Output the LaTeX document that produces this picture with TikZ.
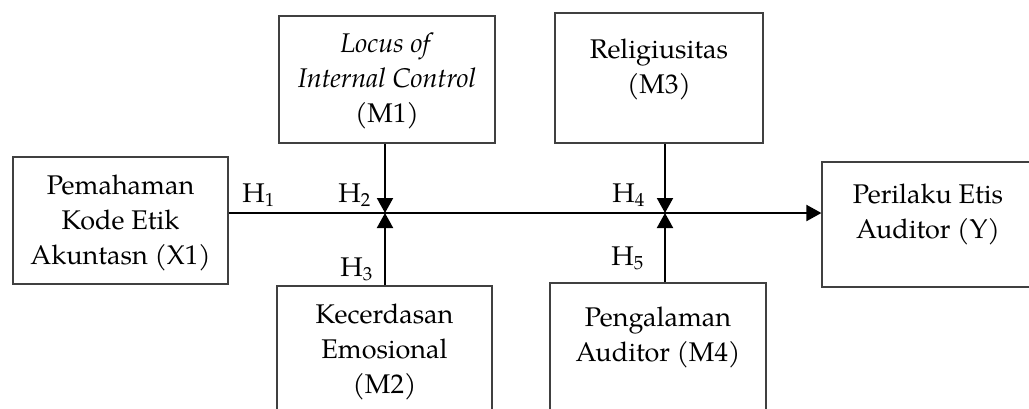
\documentclass[tikz,border=0pt]{standalone}
\usepackage{fontspec}
\setmainfont{TeX Gyre Pagella}
\usetikzlibrary{arrows.meta}
\begin{document}
\begin{tikzpicture}[x=0.5pt,y=-0.5pt,
  box/.style={draw=black!75, line width=0.6pt, rectangle, inner sep=0pt},
  txt/.style={align=center, inner sep=0pt, anchor=north, font=\fontsize{13.5}{17.5}\selectfont},
  hlab/.style={inner sep=0pt, anchor=base west, font=\fontsize{13.5}{17.5}\selectfont},
  conn/.style={line width=1pt, -{Triangle[width=8pt,length=7.5pt]}}]
\useasboundingbox (0,0) rectangle (1029,408);
\clip (0,0) rectangle (1029,408);
% boxes
\node[box, minimum width=108pt, minimum height=63.5pt] (m1) at (387,79.5) {};
\node[box, minimum width=107.5pt, minimum height=63.5pt] (x1) at (120.5,220.5) {};
\node[box, minimum width=104pt, minimum height=65pt] (m3) at (659,78) {};
\node[box, minimum width=106pt, minimum height=62.5pt] (y) at (928,224.5) {};
\node[box, minimum width=107.5pt, minimum height=67pt] (m2) at (384.5,353) {};
\node[box, minimum width=108pt, minimum height=68.5pt] (m4) at (658,351.5) {};
% texts
\node[txt] (m1t) at (387,32) {\textit{Locus of}\\\textit{Internal Control}\\(M1)};
\node[txt] (x1t) at (120.5,174) {Pemahaman\\Kode Etik\\Akuntasn (X1)};
\node[txt] (m3t) at (659,38) {Religiusitas\\(M3)};
\node[txt] (yt) at (928,183) {Perilaku Etis\\Auditor (Y)};
\node[txt] (m2t) at (384.5,303) {Kecerdasan\\Emosional\\(M2)};
\node[txt] (m4t) at (658,306) {Pengalaman\\Auditor (M4)};
% junctions
\coordinate (j1) at (385,213);
\coordinate (j2) at (665,213);
% connectors
\draw[conn] (x1.east |- j1) -- (y.west |- j1);
\draw[conn] (m1.south -| j1) -- (j1);
\draw[conn] (m2.north -| j1) -- (j1);
\draw[conn] (m3.south -| j2) -- (j2);
\draw[conn] (m4.north -| j2) -- (j2);
% hypothesis labels
\node[hlab] (h1) at (242,202) {H\textsubscript{1}};
\node[hlab] (h2) at (338,202) {H\textsubscript{2}};
\node[hlab] (h3) at (340,276) {H\textsubscript{3}};
\node[hlab] (h4) at (612,202) {H\textsubscript{4}};
\node[hlab] (h5) at (611,265) {H\textsubscript{5}};
\end{tikzpicture}
\end{document}
